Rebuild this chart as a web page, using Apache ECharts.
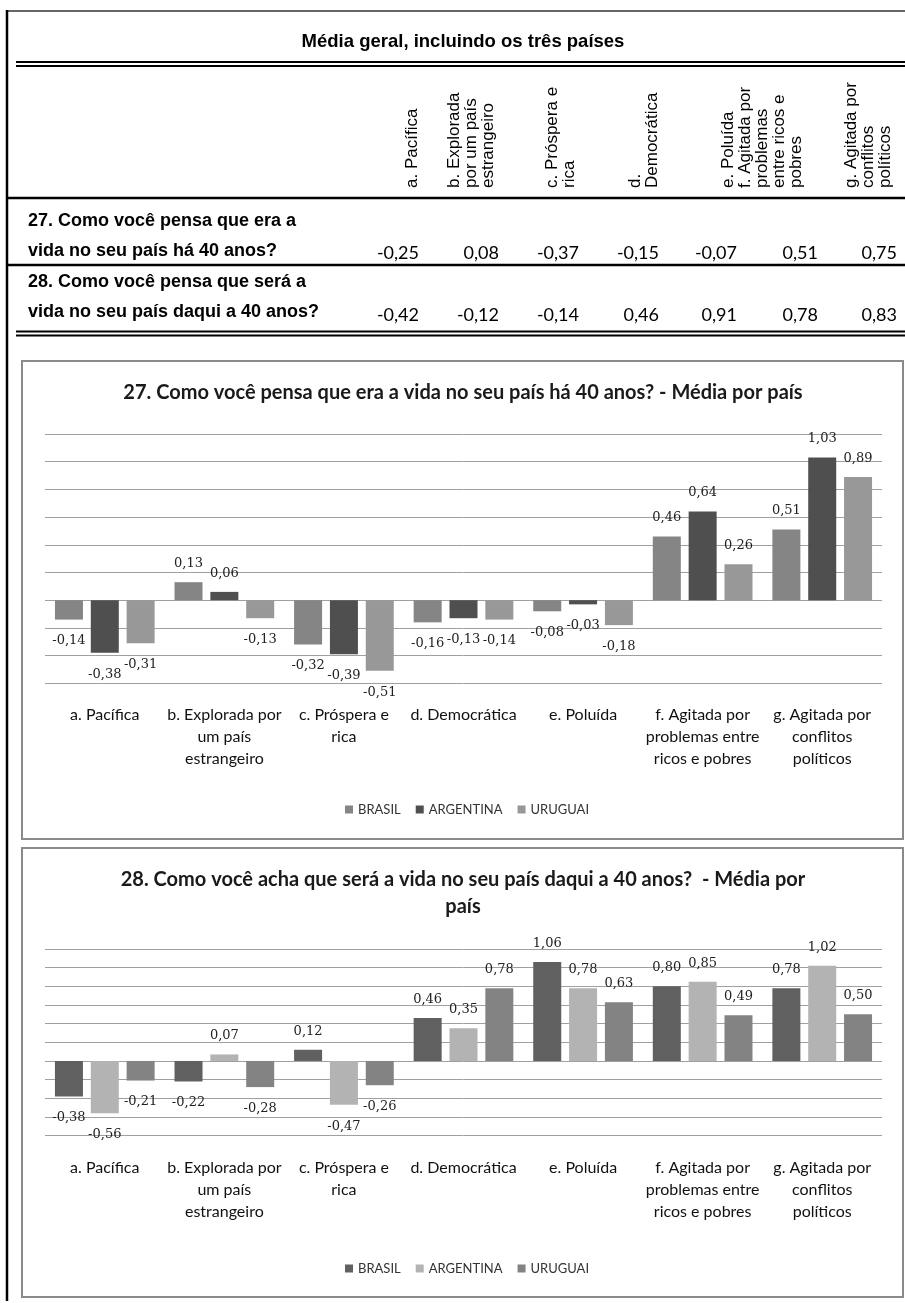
<!DOCTYPE html>
<html>
<head>
<meta charset="utf-8">
<script src="https://cdn.jsdelivr.net/npm/echarts@6/dist/echarts.min.js"></script>
<style>
  html, body { margin: 0; padding: 0; background: #fff; }
  #page { width: 905px; height: 1303px; }
</style>
</head>
<body>
<div id="page"></div>
<script>
// categories shared by both charts
const categories = [
  "a. Pacífica",
  "b. Explorada por\num país\nestrangeiro",
  "c. Próspera e\nrica",
  "d. Democrática",
  "e. Poluída",
  "f. Agitada por\nproblemas entre\nricos e pobres",
  "g. Agitada por\nconflitos\npolíticos",
];
const countries = ["BRASIL", "ARGENTINA", "URUGUAI"];

// 27. ... há 40 anos? - média por país
const past_brasil = [-0.14, 0.13, -0.32, -0.16, -0.08, 0.46, 0.51];
const past_argentina = [-0.38, 0.06, -0.39, -0.13, -0.03, 0.64, 1.03];
const past_uruguai = [-0.31, -0.13, -0.51, -0.14, -0.18, 0.26, 0.89];

// 28. ... daqui a 40 anos? - média por país
const future_brasil = [-0.38, -0.22, 0.12, 0.46, 1.06, 0.80, 0.78];
const future_argentina = [-0.56, 0.07, -0.47, 0.35, 0.78, 0.85, 1.02];
const future_uruguai = [-0.21, -0.28, -0.26, 0.78, 0.63, 0.49, 0.50];

// table: média geral, incluindo os três países
const tableTitle = "Média geral, incluindo os três países";
const tableHeaders = [
  "a. Pacífica",
  "b. Explorada\npor um país\nestrangeiro",
  "c. Próspera e\nrica",
  "d.\nDemocrática",
  "e. Poluída",
  "f. Agitada por\nproblemas\nentre ricos e\npobres",
  "g. Agitada por\nconflitos\npolíticos",
];
const tableRows = [
  "27. Como você pensa que era a\nvida no seu país há 40 anos?",
  "28. Como você pensa que será a\nvida no seu país daqui a 40 anos?",
];
const avg27 = [-0.25, 0.08, -0.37, -0.15, -0.07, 0.51, 0.75];
const avg28 = [-0.42, -0.12, -0.14, 0.46, 0.91, 0.78, 0.83];

const title27 = "27. Como você pensa que era a vida no seu país há 40 anos? - Média por país";
const title28 = "28. Como você acha que será a vida no seu país daqui a 40 anos?  - Média por\npaís";

const fmt = (v) => v.toFixed(2).replace(".", ",");

const myChart = echarts.init(document.getElementById("page"));

// table pieces
const headerX = [412, 454, 552, 635, 728, 745, 851];
const valueRight = [419, 499, 579, 659, 737, 818, 897];
const hline = (y, x1, w) => ({
  type: "line",
  shape: { x1: x1, y1: y, x2: 905, y2: y },
  style: { stroke: "#000", lineWidth: w },
});

const graphic = [
  { type: "line", shape: { x1: 6, y1: 11, x2: 905, y2: 11 }, style: { stroke: "#333", lineWidth: 1.5 } },
  { type: "line", shape: { x1: 7, y1: 10, x2: 7, y2: 1301 }, style: { stroke: "#000", lineWidth: 2.5 } },
  hline(62, 16, 2),
  hline(66, 16, 2),
  hline(198, 7, 2.5),
  hline(265, 7, 2.5),
  hline(331.5, 16, 2),
  hline(335.5, 16, 2),
  {
    type: "text", x: 463, y: 42,
    style: { text: tableTitle, font: "bold 18.5px 'Liberation Sans'", fill: "#000", textAlign: "center", textVerticalAlign: "middle" },
  },
  // chart boxes
  { type: "rect", shape: { x: 22, y: 361, width: 881, height: 478 }, style: { fill: "none", stroke: "#8a8a8a", lineWidth: 2 } },
  { type: "rect", shape: { x: 22, y: 848, width: 881, height: 449 }, style: { fill: "none", stroke: "#8a8a8a", lineWidth: 2 } },
  {
    type: "text", x: 463, y: 393,
    style: { text: title27, font: "bold 20px Lato", fill: "#1a1a1a", textAlign: "center", textVerticalAlign: "middle" },
  },
  {
    type: "text", x: 463, y: 866,
    style: { text: title28, font: "bold 20px Lato", fill: "#1a1a1a", textAlign: "center", textVerticalAlign: "top", lineHeight: 27 },
  },
];

tableHeaders.forEach((h, i) => {
  graphic.push({
    type: "text", x: headerX[i] - 8.5, y: 188, rotation: Math.PI / 2,
    style: { text: h, font: "17px 'Liberation Sans'", fill: "#000", textAlign: "left", textVerticalAlign: "top", lineHeight: 17 },
  });
});

[[tableRows[0], 206], [tableRows[1], 267]].forEach(([t, y]) => {
  graphic.push({
    type: "text", x: 28, y: y,
    style: { text: t, font: "bold 18px 'Liberation Sans'", fill: "#000", textAlign: "left", textVerticalAlign: "top", lineHeight: 30 },
  });
});

[[avg27, 253], [avg28, 315]].forEach(([vals, y]) => {
  vals.forEach((v, i) => {
    graphic.push({
      type: "text", x: valueRight[i], y: y,
      style: { text: fmt(v), font: "18px Lato", fill: "#000", textAlign: "right", textVerticalAlign: "middle" },
    });
  });
});

function barSeries(name, values, color, idx) {
  return {
    name: name,
    type: "bar",
    xAxisIndex: idx,
    yAxisIndex: idx,
    barWidth: 28,
    barGap: "28%",
    itemStyle: { color: color },
    label: {
      show: true,
      fontFamily: "DejaVu Serif",
      fontSize: 13,
      color: "#222",
      formatter: (p) => fmt(p.value),
    },
    data: values.map((v) => ({
      value: v,
      label: v < 0 ? { position: "bottom", distance: 15 } : { position: "top", distance: 12 },
    })),
  };
}

const colors27 = ["#858585", "#4f4f4f", "#989898"];
const colors28 = ["#606060", "#b3b3b3", "#838383"];

const xAxisBase = {
  type: "category",
  data: categories,
  position: "bottom",
  axisLine: { show: false, onZero: false },
  axisTick: { show: false },
  axisLabel: {
    interval: 0,
    margin: 21,
    fontFamily: "Lato",
    fontSize: 16,
    lineHeight: 22,
    color: "#111",
  },
};
const yAxisBase = {
  type: "value",
  interval: 0.2,
  axisLabel: { show: false },
  axisLine: { show: false },
  axisTick: { show: false },
  splitLine: { lineStyle: { color: "#a0a0a0", width: 1 } },
};

const legendBase = {
  icon: "rect",
  itemWidth: 8,
  itemHeight: 8,
  itemGap: 15,
  padding: 0,
  textStyle: { fontFamily: "Lato", fontSize: 13, color: "#333" },
};

const option = {
  animation: false,
  backgroundColor: "#fff",
  graphic: graphic,
  grid: [
    { left: 45, top: 434, width: 837, height: 249.3 },
    { left: 45, top: 949, width: 837, height: 186.6 },
  ],
  xAxis: [
    Object.assign({ gridIndex: 0 }, xAxisBase),
    Object.assign({ gridIndex: 1 }, xAxisBase),
  ],
  yAxis: [
    Object.assign({ gridIndex: 0, min: -0.6, max: 1.2 }, yAxisBase),
    Object.assign({ gridIndex: 1, min: -0.8, max: 1.2 }, yAxisBase),
  ],
  legend: [
    Object.assign({
      left: 345, top: 803,
      data: countries.map((c, i) => ({ name: c, itemStyle: { color: colors27[i] } })),
    }, legendBase),
    Object.assign({
      left: 345, top: 1262,
      data: countries.map((c, i) => ({ name: c, itemStyle: { color: colors28[i] } })),
    }, legendBase),
  ],
  series: [
    barSeries(countries[0], past_brasil, colors27[0], 0),
    barSeries(countries[1], past_argentina, colors27[1], 0),
    barSeries(countries[2], past_uruguai, colors27[2], 0),
    barSeries(countries[0], future_brasil, colors28[0], 1),
    barSeries(countries[1], future_argentina, colors28[1], 1),
    barSeries(countries[2], future_uruguai, colors28[2], 1),
  ],
};

myChart.setOption(option);
</script>
</body>
</html>
